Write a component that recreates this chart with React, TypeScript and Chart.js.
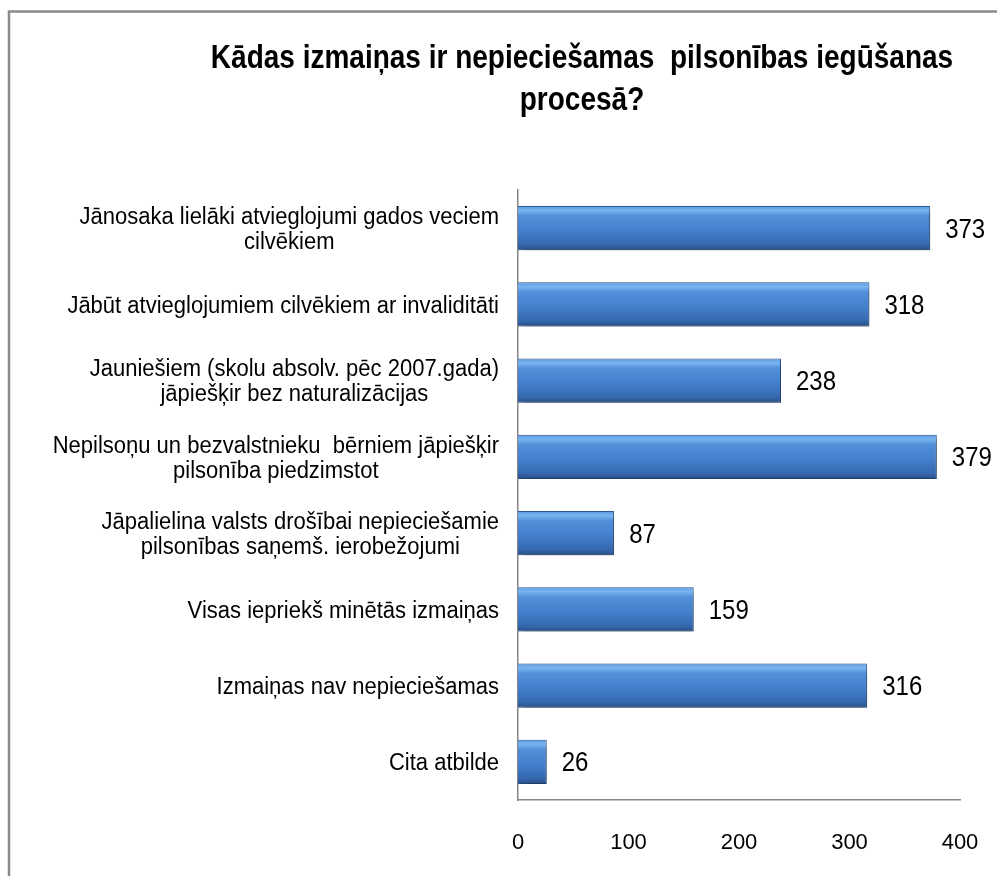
import React, { useEffect, useRef } from 'react';
import { Chart, registerables } from 'chart.js';

Chart.register(...registerables);

const TITLE_LINES = ['Kādas izmaiņas ir nepieciešamas  pilsonības iegūšanas', 'procesā?'];
const CATEGORIES: string[][] = [
  ['Jānosaka lielāki atvieglojumi gados veciem', 'cilvēkiem'],
  ['Jābūt atvieglojumiem cilvēkiem ar invaliditāti'],
  ['Jauniešiem (skolu absolv. pēc 2007.gada)', 'jāpiešķir bez naturalizācijas'],
  ['Nepilsoņu un bezvalstnieku  bērniem jāpiešķir', 'pilsonība piedzimstot'],
  ['Jāpalielina valsts drošībai nepieciešamie', 'pilsonības saņemš. ierobežojumi'],
  ['Visas iepriekš minētās izmaiņas'],
  ['Izmaiņas nav nepieciešamas'],
  ['Cita atbilde'],
];
const VALUES = [373, 318, 238, 379, 87, 159, 316, 26];
const X_TICKS = [0, 100, 200, 300, 400];

const FONT = '"Liberation Sans", Arial, sans-serif';
const W = 997;
const H = 876;
const BAR_FRACTION = 0.58;

function stretchedText(c: CanvasRenderingContext2D, text: string, x: number, y: number, sy: number) {
  c.save();
  c.translate(x, y);
  c.scale(1, sy);
  c.fillText(text, 0, 0);
  c.restore();
}

export default function App() {
  const ref = useRef<HTMLCanvasElement | null>(null);

  useEffect(() => {
    const canvas = ref.current;
    if (!canvas) return;

    const framePlugin = {
      id: 'frame',
      beforeDraw(chart: any) {
        const c = chart.ctx;
        c.save();
        c.fillStyle = '#ffffff';
        c.fillRect(0, 0, chart.width, chart.height);
        c.strokeStyle = '#8a8a8a';
        c.lineWidth = 2.5;
        c.strokeRect(9, 11.5, 1400, 1400);
        c.restore();
      },
    };

    const shadowPlugin = {
      id: 'barShadow',
      beforeDatasetsDraw(chart: any) {
        const c = chart.ctx;
        c.save();
        c.shadowColor = 'rgba(0,0,0,0.38)';
        c.shadowBlur = 7;
        c.shadowOffsetX = 3;
        c.shadowOffsetY = 4;
      },
      afterDatasetsDraw(chart: any) {
        chart.ctx.restore();
      },
    };

    const labelsPlugin = {
      id: 'textLabels',
      afterDraw(chart: any) {
        const c = chart.ctx;
        const ys = chart.scales.y;
        c.save();
        // title
        c.fillStyle = '#000';
        c.font = `bold 28px ${FONT}`;
        c.textAlign = 'center';
        c.textBaseline = 'alphabetic';
        stretchedText(c, TITLE_LINES[0], 582, 68, 1.2);
        stretchedText(c, TITLE_LINES[1], 582, 110, 1.2);

        // category labels: block right-aligned, lines centered within block
        c.font = `22px ${FONT}`;
        c.textBaseline = 'middle';
        const lineH = 25;
        const right = 499;
        CATEGORIES.forEach((lines, i) => {
          const yc = ys.getPixelForValue(i) + 2;
          const widths = lines.map((l) => c.measureText(l).width);
          const bw = Math.max(...widths);
          const cx = right - bw / 2;
          c.textAlign = 'center';
          lines.forEach((l, k) => {
            const y = yc + (k - (lines.length - 1) / 2) * lineH;
            stretchedText(c, l, cx, y, 1.05);
          });
        });

        // value labels
        c.font = `24px ${FONT}`;
        c.textAlign = 'left';
        const meta = chart.getDatasetMeta(0);
        meta.data.forEach((el: any, i: number) => {
          stretchedText(c, String(VALUES[i]), el.x + 15, el.y + 2, 1.12);
        });
        c.restore();
      },
    };

    const chart = new Chart(canvas, {
      type: 'bar',
      data: {
        labels: CATEGORIES.map((l) => l.join(' ')),
        datasets: [
          {
            data: VALUES,
            barPercentage: BAR_FRACTION,
            categoryPercentage: 1,
            borderWidth: 1,
            borderColor: '#2c5a95',
            backgroundColor: (ctx: any) => {
              const ch = ctx.chart;
              const ys = ch.scales && ch.scales.y;
              if (!ch.chartArea || !ys || ctx.type !== 'data') return '#4a84cf';
              const yc = ys.getPixelForValue(ctx.dataIndex);
              const h = (ys.height / CATEGORIES.length) * BAR_FRACTION;
              const g = ch.ctx.createLinearGradient(0, yc - h / 2, 0, yc + h / 2);
              g.addColorStop(0, '#5a97e0');
              g.addColorStop(0.1, '#7ab4f0');
              g.addColorStop(0.22, '#5290da');
              g.addColorStop(0.6, '#427dc9');
              g.addColorStop(0.88, '#3567ad');
              g.addColorStop(1, '#284d83');
              return g;
            },
          },
        ],
      },
      options: {
        indexAxis: 'y',
        responsive: false,
        animation: false,
        layout: { padding: { top: 190, right: 37, left: 0, bottom: 0 } },
        plugins: {
          legend: { display: false },
          title: { display: false },
          tooltip: { enabled: false },
        },
        scales: {
          x: {
            type: 'linear',
            min: 0,
            max: 400,
            afterBuildTicks: (s: any) => {
              s.ticks = X_TICKS.map((v) => ({ value: v }));
            },
            grid: { display: false, drawTicks: false },
            border: { display: true, color: '#868686', width: 1.5 },
            ticks: {
              color: '#000',
              font: { family: FONT, size: 22 },
              padding: 30,
              maxRotation: 0,
            },
            afterFit: (s: any) => {
              s.height = 76;
              s.paddingLeft = 0;
              s.paddingRight = 0;
            },
          },
          y: {
            type: 'category',
            grid: { display: false, drawTicks: false },
            border: { display: true, color: '#868686', width: 1.5 },
            ticks: { display: false },
            afterFit: (s: any) => {
              s.width = 518;
            },
          },
        },
      },
      plugins: [framePlugin, shadowPlugin, labelsPlugin],
    } as any);

    return () => {
      chart.destroy();
    };
  }, []);

  return (
    <div style={{ position: 'absolute', left: 0, top: 0, width: W, height: H, background: '#fff' }}>
      <canvas ref={ref} width={W} height={H} style={{ display: 'block', width: W, height: H }} />
    </div>
  );
}
